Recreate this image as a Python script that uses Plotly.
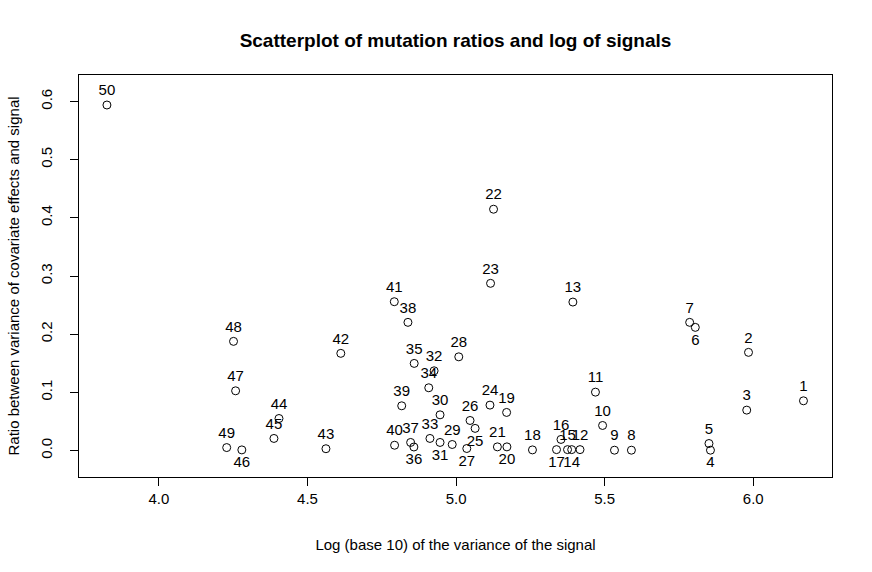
import plotly.graph_objects as go

# Point ids (labels)
ids = [str(i) for i in range(1, 51)]

# Log (base 10) of the variance of the signal
log_var = [6.169, 5.984, 5.978, 5.856, 5.851, 5.805, 5.786, 5.590, 5.533, 5.493,
           5.469, 5.417, 5.393, 5.389, 5.375, 5.353, 5.338, 5.257, 5.170, 5.171,
           5.139, 5.126, 5.116, 5.114, 5.064, 5.047, 5.036, 5.009, 4.987, 4.946,
           4.946, 4.926, 4.912, 4.908, 4.859, 4.858, 4.847, 4.838, 4.817, 4.793,
           4.792, 4.612, 4.562, 4.404, 4.387, 4.279, 4.258, 4.251, 4.228, 3.825]

# Ratio between variance of covariate effects and signal
ratio = [0.0854, 0.1687, 0.0694, 0.0005, 0.0120, 0.2117, 0.2203, 0.0005, 0.0005, 0.0430,
         0.1003, 0.0015, 0.2552, 0.0015, 0.0015, 0.0190, 0.0015, 0.0010, 0.0654, 0.0062,
         0.0062, 0.4148, 0.2874, 0.0780, 0.0380, 0.0516, 0.0034, 0.1610, 0.0103, 0.0613,
         0.0138, 0.1370, 0.0207, 0.1078, 0.1497, 0.0060, 0.0138, 0.2203, 0.0768, 0.0090,
         0.2558, 0.1670, 0.0030, 0.0550, 0.0207, 0.0010, 0.1026, 0.1876, 0.0050, 0.5940]

# labels drawn below their point
below = {"4", "6", "14", "17", "20", "25", "27", "31", "36", "46"}

x_ticks = [4.0, 4.5, 5.0, 5.5, 6.0]
y_ticks = [0.0, 0.1, 0.2, 0.3, 0.4, 0.5, 0.6]

positions = ["bottom center" if s in below else "top center" for s in ids]

FONT = "Liberation Sans, Arial, Helvetica, sans-serif"

W, H = 872, 572

fig = go.Figure()
fig.add_trace(go.Scatter(
    x=log_var, y=ratio, mode="markers+text",
    text=ids, textposition=positions,
    textfont=dict(family=FONT, size=15, color="black"),
    marker=dict(symbol="circle-open", size=8, color="black", line=dict(width=1, color="black")),
    cliponaxis=False, showlegend=False, hoverinfo="x+y+text",
))

fig.update_layout(
    width=W, height=H,
    margin=dict(l=79, r=40, t=75, b=95),
    paper_bgcolor="white", plot_bgcolor="white",
    font=dict(family=FONT, size=15, color="black"),
    title=dict(text="<b>Scatterplot of mutation ratios and log of signals</b>",
               x=0.5, xref="paper", xanchor="center",
               y=1 - 40 / H, yref="container", yanchor="middle",
               font=dict(family=FONT, size=19, color="black")),
)

fig.update_xaxes(
    range=[3.731, 6.265], tickvals=x_ticks, ticktext=[f"{v:.1f}" for v in x_ticks],
    showgrid=False, zeroline=False, showline=True, mirror=True,
    linecolor="black", linewidth=1, automargin=False,
    ticks="outside", ticklen=8, tickcolor="black", tickwidth=1,
    ticklabelstandoff=0,
    tickfont=dict(family=FONT, size=15),
    title=dict(text="Log (base 10) of the variance of the signal", standoff=33,
               font=dict(family=FONT, size=15)),
)
fig.update_yaxes(
    range=[-0.0456, 0.6456], tickvals=y_ticks, ticktext=[f"{v:.1f}" for v in y_ticks],
    tickangle=-90,
    showgrid=False, zeroline=False, showline=True, mirror=True,
    linecolor="black", linewidth=1, automargin=False,
    ticks="outside", ticklen=8, tickcolor="black", tickwidth=1,
    ticklabelstandoff=12,
    tickfont=dict(family=FONT, size=15),
    title=dict(text="Ratio between variance of covariate effects and signal", standoff=14,
               font=dict(family=FONT, size=15)),
)

# remove the browser's default 8px body margin so the figure fills the window
fig.write_html("out.html", config={"displayModeBar": False},
               post_script="document.body.style.margin='0';")
